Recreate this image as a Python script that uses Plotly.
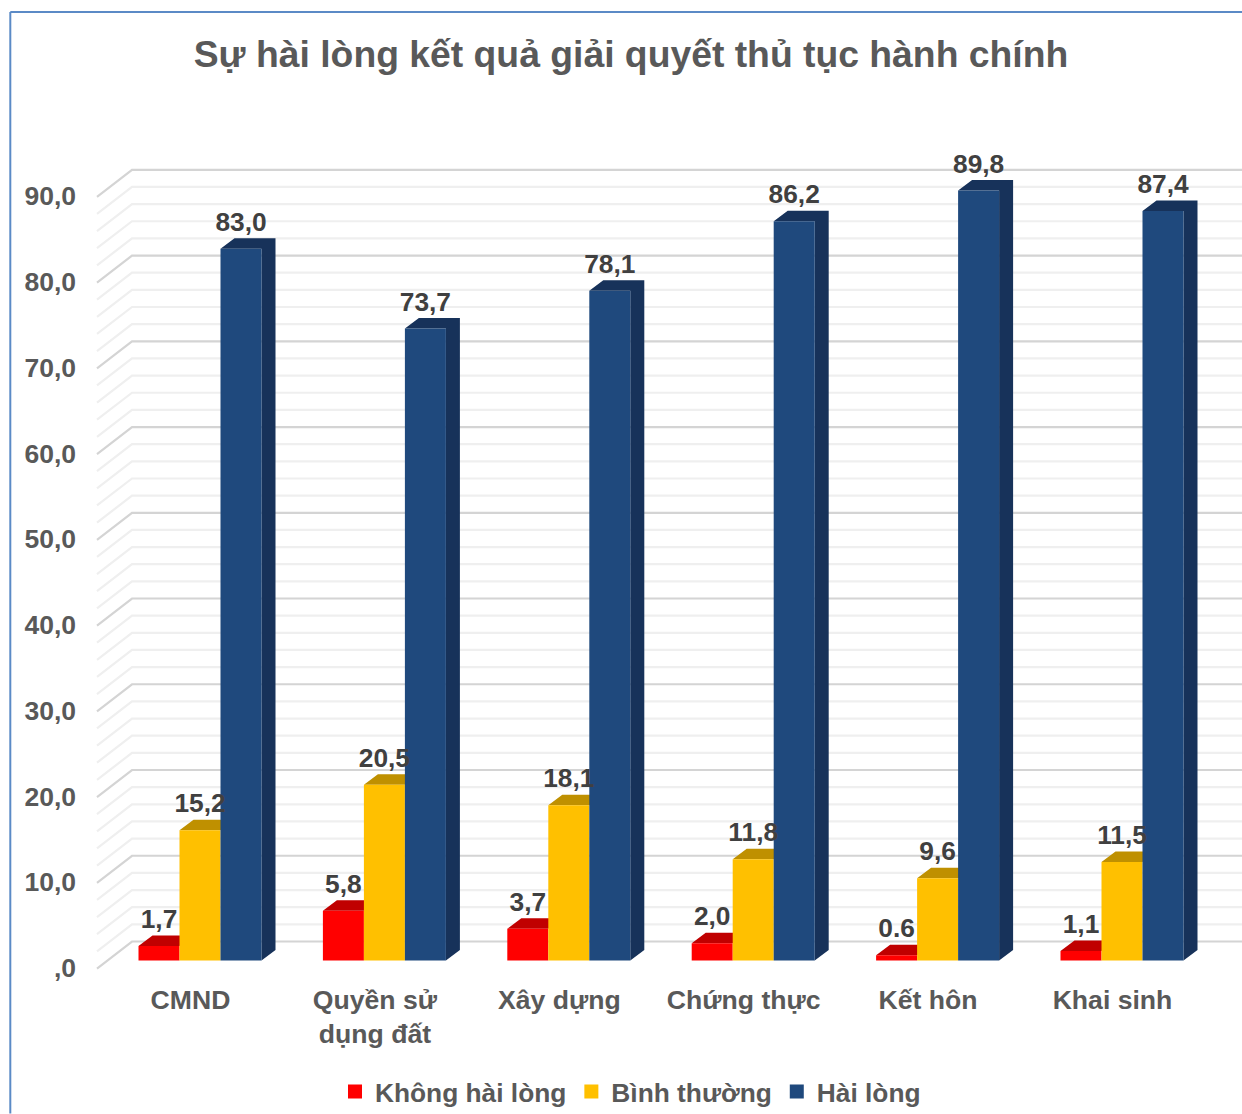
import plotly.graph_objects as go

categories = ["CMND", "Quyền sử<br>dụng đất", "Xây dựng", "Chứng thực", "Kết hôn", "Khai sinh"]
khong_hai_long = [1.7, 5.8, 3.7, 2.0, 0.6, 1.1]
binh_thuong = [15.2, 20.5, 18.1, 11.8, 9.6, 11.5]
hai_long = [83.0, 73.7, 78.1, 86.2, 89.8, 87.4]
khong_labels = ["1,7", "5,8", "3,7", "2,0", "0.6", "1,1"]
binh_labels = ["15,2", "20,5", "18,1", "11,8", "9,6", "11,5"]
hai_labels = ["83,0", "73,7", "78,1", "86,2", "89,8", "87,4"]
y_ticks = [0, 10, 20, 30, 40, 50, 60, 70, 80, 90]
y_tick_labels = [",0", "10,0", "20,0", "30,0", "40,0", "50,0", "60,0", "70,0", "80,0", "90,0"]
minor_grid = list(range(0, 91, 2))

W, H = 1242, 1114
PL, PR, PT, PB = 77, 1242, 130, 981.5    # plot area in page pixels
PX_X = 184.4                              # pixels per category
PX_Y = 8.58                               # pixels per value unit
X0_PX, Y0_PX = 200, 961                   # page position of category 0 / value 0
xr = [(PL - X0_PX) / PX_X, (PR - X0_PX) / PX_X]
yr = [(Y0_PX - PB) / PX_Y, (Y0_PX - PT) / PX_Y]
BW = 41 / PX_X
DX, DY = 14 / PX_X, 10.5 / PX_Y          # bar depth
WALL_X0 = (97 - X0_PX) / PX_X
WALL_X1 = (132 - X0_PX) / PX_X
WALL_Y0 = (Y0_PX - 969) / PX_Y
WALL_Y1 = (Y0_PX - 942) / PX_Y
LABEL_UP = 24.5 / PX_Y

TEXT = "#595959"
LABEL = "#404040"
FONT = "Liberation Sans"
xs = list(range(len(categories)))

fig = go.Figure()

# walls: minor first, major on top
for major in (False, True):
    gx, gy = [], []
    for v in minor_grid:
        if (v % 10 == 0) != major:
            continue
        gx += [WALL_X0, WALL_X1, xr[1], None]
        gy += [v + WALL_Y0, v + WALL_Y1, v + WALL_Y1, None]
    fig.add_trace(go.Scatter(
        x=gx, y=gy, mode="lines", showlegend=False, hoverinfo="skip", zorder=-2,
        line=dict(color="#D4D4D4" if major else "#EFEFEF", width=2.2),
    ))

series = [
    ("Không hài lòng", khong_hai_long, khong_labels, "#FF0000", "#C00000", -1.5, 0),
    ("Bình thường", binh_thuong, binh_labels, "#FFC000", "#BF9000", -0.5, 2),
    ("Hài lòng", hai_long, hai_labels, "#1F497D", "#17325A", 0.5, 4),
]

for name, vals, labels, col, dark, k, z in series:
    fx, fy = [], []
    for i, v in zip(xs, vals):
        a = i + k * BW
        b = a + BW
        fx += [a, a + DX, b + DX, b, a, None]
        fy += [v, v + DY, v + DY, v, v, None]
        if k > 0:
            fx += [b, b + DX, b + DX, b, b, None]
            fy += [0, DY, v + DY, v, 0, None]
    fig.add_trace(go.Scatter(
        x=fx, y=fy, mode="lines", fill="toself", fillcolor=dark,
        line=dict(width=0, color=dark), showlegend=False, hoverinfo="skip", zorder=z,
    ))
    fig.add_trace(go.Bar(
        x=xs, y=vals, name=name, width=BW, offset=k * BW, zorder=z + 1, showlegend=False,
        marker=dict(color=col, line=dict(width=0)),
    ))
    # legend key only: same colour, 14 px square
    fig.add_trace(go.Bar(
        x=[None], y=[None], name=name, marker=dict(color=col, line=dict(width=2, color=col)),
    ))

for name, vals, labels, col, dark, k, z in series:
    fig.add_trace(go.Scatter(
        x=[i + (k + 0.5) * BW for i in xs], y=[v + LABEL_UP for v in vals],
        text=labels, mode="text", textposition="middle center",
        textfont=dict(family=FONT, size=26.3, color=LABEL, weight=700),
        showlegend=False, hoverinfo="skip", zorder=10, cliponaxis=False,
    ))

def px(x):
    return (x - PL) / (PR - PL)

def py(y):
    return (PB - y) / (PB - PT)

FRAME = "#5B8AC6"
fig.update_layout(
    width=W, height=H, autosize=False,
    margin=dict(l=PL, r=W - PR, t=PT, b=H - PB, pad=0, autoexpand=False),
    paper_bgcolor="white", plot_bgcolor="white",
    barmode="overlay",
    title=dict(
        text="Sự hài lòng kết quả giải quyết thủ tục hành chính",
        x=631 / W, xanchor="center", y=1 - 54 / H, yanchor="middle",
        font=dict(family=FONT, size=37.3, color=TEXT, weight=700),
    ),
    xaxis=dict(
        range=xr, showgrid=False, zeroline=False, showline=False, ticks="",
        tickmode="array", tickvals=[i - 9.5 / PX_X for i in xs], ticktext=categories,
        tickfont=dict(family=FONT, size=26.6, color=TEXT, weight=700),
    ),
    yaxis=dict(
        range=yr, showgrid=False, zeroline=False, showline=False, ticks="",
        tickmode="array", tickvals=[v - 7.3 / PX_Y for v in y_ticks], ticktext=y_tick_labels,
        tickfont=dict(family=FONT, size=26.5, color=TEXT, weight=700),
    ),
    legend=dict(
        orientation="h", x=px(335), xanchor="left", y=py(1092.5), yanchor="middle",
        font=dict(family=FONT, size=26.3, color=TEXT, weight=700),
        bgcolor="rgba(0,0,0,0)",
    ),
    shapes=[
        dict(type="line", xref="paper", yref="paper", x0=px(10.3), x1=px(10.3), y0=py(12), y1=py(H),
             line=dict(color=FRAME, width=2)),
        dict(type="line", xref="paper", yref="paper", x0=px(10.3), x1=px(W), y0=py(12), y1=py(12),
             line=dict(color=FRAME, width=2)),
    ],
)

fig.write_html("out.html", config={"displayModeBar": False},
               post_script="document.body.style.margin='0';document.body.style.overflow='hidden';")
